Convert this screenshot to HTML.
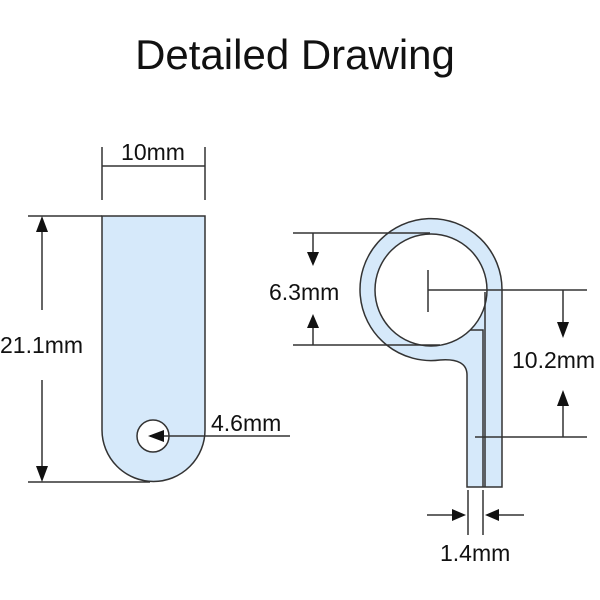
<!DOCTYPE html>
<html><head><style>body{margin:0;background:#fff}svg{display:block}</style></head><body>
<svg width="600" height="600" viewBox="0 0 600 600" xmlns="http://www.w3.org/2000/svg" font-family="Liberation Sans, Arial, sans-serif">
<text x="295" y="69" font-size="42" text-anchor="middle" fill="#111">Detailed Drawing</text>
<g stroke="#333" stroke-width="1.5" fill="none">
<path d="M102,216 H205 V430 A51.5,51.5 0 0 1 102,430 Z" fill="#d6e9fa"/>
<circle cx="153" cy="436" r="16" fill="#fff"/>
<line x1="102" y1="147" x2="102" y2="200"/><line x1="205" y1="147" x2="205" y2="200"/>
<line x1="102" y1="166" x2="205" y2="166"/>
<line x1="28" y1="216" x2="102" y2="216"/><line x1="28" y1="482" x2="150" y2="482"/>
<line x1="42" y1="222" x2="42" y2="310"/><line x1="42" y1="380" x2="42" y2="476"/>
<line x1="150" y1="436" x2="290" y2="436"/>
<path d="M502,487 V290 A71,71 0 1 0 440,360 Q467,358 467,375 V487 Z" fill="#d6e9fa"/>
<circle cx="431" cy="290" r="56" fill="#fff"/>
<path d="M483,487 V330 H470" />
<line x1="485" y1="487" x2="485" y2="292"/>
<line x1="293" y1="233" x2="430" y2="233"/><line x1="293" y1="345" x2="440" y2="345"/>
<line x1="313" y1="233" x2="313" y2="258"/><line x1="313" y1="322" x2="313" y2="345"/>
<line x1="428" y1="270" x2="428" y2="312"/>
<line x1="428" y1="290" x2="587" y2="290"/><line x1="475" y1="437" x2="587" y2="437"/>
<line x1="563" y1="290" x2="563" y2="325"/><line x1="563" y1="400" x2="563" y2="437"/>
<line x1="468" y1="490" x2="468" y2="535"/><line x1="483" y1="490" x2="483" y2="535"/>
<line x1="427" y1="515" x2="458" y2="515"/><line x1="493" y1="515" x2="524" y2="515"/>
</g>
<g fill="#111">
<polygon points="42,216 36,232 48,232"/><polygon points="42,482 36,466 48,466"/>
<polygon points="148,436 164,430 164,442"/>
<polygon points="313,266 307,252 319,252"/><polygon points="313,314 307,328 319,328"/>
<polygon points="563,338 557,322 569,322"/><polygon points="563,390 557,406 569,406"/>
<polygon points="466,515 452,509 452,521"/><polygon points="485,515 499,509 499,521"/>
</g>
<g font-size="23" fill="#111">
<text x="153" y="160" text-anchor="middle">10mm</text>
<text x="0" y="353">21.1mm</text>
<text x="211" y="431">4.6mm</text>
<text x="269" y="300">6.3mm</text>
<text x="512" y="368">10.2mm</text>
<text x="440" y="561">1.4mm</text>
</g>
</svg>
</body></html>
